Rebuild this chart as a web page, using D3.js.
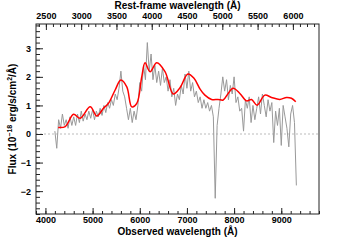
<!DOCTYPE html>
<html>
<head>
<meta charset="utf-8">
<script src="https://cdn.jsdelivr.net/npm/d3@7"></script>
<style>
  body { margin: 0; background: #fff; }
  text { font-family: "Liberation Sans", Arial, sans-serif; font-weight: bold; fill: #000; }
</style>
</head>
<body>
<div id="chart"></div>
<script>
// observed spectrum, 40 A steps from 4200 A
const specStart = 4200;
const specStep = 40;
const specFlux = [
  0.1, -0.5, 0.5, 0.2, 0.7, 0.3, 0.5, 0.2, 0.6, 0.3,
  0.6, 0.3, 0.7, 0.4, 0.8, 0.45, 0.7, 0.5, 0.8, 0.55,
  0.85, 0.5, 0.8, 0.6, 0.9, 0.65, 1.0, 0.75, 1.1, 0.9,
  1.2, 1.0, 1.4, 1.2, 1.6, 2.2, 1.5, 1.3, 0.9, 0.5,
  0.9, 0.4, 0.8, 0.5, 1.0, 1.8, 1.5, 2.4, 1.9, 3.2,
  2.2, 2.8, 1.9, 2.4, 1.8, 2.2, 1.7, 2.3, 1.8, 2.0,
  1.5, 1.9, 1.3, 1.6, 1.0, 1.4, 1.2, 1.7, 1.4, 2.1,
  1.6, 2.2, 1.5, 1.8, 1.3, 1.5, 1.1, 1.3, 0.9, 1.2,
  0.9, 1.1, 0.8, 1.0, 0.6, -2.25, 0.3, 0.9, 1.4, 2.0,
  1.5, 1.9, 1.2, 1.7, 1.4, 2.0, 1.1, 1.3, 0.8, 0.9,
  0.1, 1.2, 0.9, 1.3, 0.4, 1.0, 0.5, 0.9, 1.3, 0.7,
  1.4, 1.0, 0.6, 1.2, 0.8, 1.1, -0.3, 0.8, 0.3, 0.9,
  -0.4, 1.0, 0.6, 0.2, -0.45, 0.7, 1.0, 0.4, -1.8
];

// smooth model (red)
const modelWave = [4270, 4420, 4596, 4737, 4949, 5090, 5230, 5336, 5478, 5598,
  5725, 5831, 5937, 6042, 6112, 6218, 6360, 6535, 6711, 6853,
  7020, 7150, 7276, 7381, 7523, 7663, 7769, 7874, 7980, 8122,
  8264, 8369, 8488, 8651, 8793, 8968, 9110, 9216, 9307];
const modelFlux = [0.23, 0.26, 0.69, 0.55, 0.95, 0.63, 0.9, 1.07, 1.54, 1.89,
  1.65, 0.95, 1.07, 2.0, 2.49, 2.18, 2.49, 2.18, 1.40, 1.62,
  2.10, 1.95, 1.58, 1.36, 1.21, 1.21, 1.19, 1.42, 1.60, 1.42,
  1.16, 1.21, 1.01, 1.36, 1.28, 1.21, 1.28, 1.25, 1.13];

const obsTicks = [4000, 5000, 6000, 7000, 8000, 9000];
const restTicks = [2500, 3000, 3500, 4000, 4500, 5000, 5500, 6000];
const fluxTicks = [-2, -1, 0, 1, 2, 3];

const W = 355, H = 240;
const margin = { top: 24, right: 36, bottom: 26, left: 36 };
const w = W - margin.left - margin.right;
const h = H - margin.top - margin.bottom;

const svg = d3.select('#chart').append('svg')
  .attr('width', W).attr('height', H);
const g = svg.append('g')
  .attr('transform', `translate(${margin.left},${margin.top})`);

const x = d3.scaleLinear().domain([3800, 9800]).range([0, w]);
const xTop = d3.scaleLinear().domain([2360, 6370]).range([0, w]);
const y = d3.scaleLinear().domain([-2.8, 3.85]).range([h, 0]);

// zero line
g.append('line')
  .attr('x1', 0).attr('x2', w)
  .attr('y1', y(0)).attr('y2', y(0))
  .style('stroke', '#bbb').style('stroke-dasharray', '2,2');

const spec = specFlux.map((v, i) => ({ wave: specStart + i * specStep, flux: v }));
g.append('path')
  .datum(spec)
  .attr('d', d3.line().x(d => x(d.wave)).y(d => y(d.flux)))
  .style('fill', 'none').style('stroke', '#999').style('stroke-width', 1);

const model = modelWave.map((v, i) => ({ wave: v, flux: modelFlux[i] }));
g.append('path')
  .datum(model)
  .attr('d', d3.line().curve(d3.curveCatmullRom).x(d => x(d.wave)).y(d => y(d.flux)))
  .style('fill', 'none').style('stroke', '#ff0000').style('stroke-width', 1.5);

// axes with inward ticks
function styleAxis(sel) {
  sel.selectAll('path').remove();
  sel.selectAll('line').style('stroke', '#222');
  sel.selectAll('text').style('font-size', '9px');
}

const minorObs = d3.range(3800, 9801, 200);
g.append('g').attr('transform', `translate(0,${h})`)
  .call(d3.axisBottom(x).tickValues(minorObs).tickSize(-3).tickFormat(''))
  .call(styleAxis);
g.append('g').attr('transform', `translate(0,${h})`)
  .call(d3.axisBottom(x).tickValues(obsTicks).tickSize(-6).tickPadding(3).tickFormat(d3.format('d')))
  .call(styleAxis);

const minorRest = d3.range(2400, 6400, 100);
g.append('g')
  .call(d3.axisTop(xTop).tickValues(minorRest).tickSize(-3).tickFormat(''))
  .call(styleAxis);
g.append('g')
  .call(d3.axisTop(xTop).tickValues(restTicks).tickSize(-6).tickPadding(5).tickFormat(d3.format('d')))
  .call(styleAxis);

const minorFlux = d3.range(-2.8, 3.81, 0.2);
g.append('g')
  .call(d3.axisLeft(y).tickValues(minorFlux).tickSize(-4).tickFormat(''))
  .call(styleAxis);
g.append('g')
  .call(d3.axisLeft(y).tickValues(fluxTicks).tickSize(-7).tickPadding(5).tickFormat(d3.format('d')))
  .call(styleAxis);

g.append('rect')
  .attr('width', w).attr('height', h)
  .style('fill', 'none').style('stroke', '#222').style('stroke-width', 1);

// titles
svg.append('text')
  .attr('x', margin.left + w / 2).attr('y', 9)
  .attr('text-anchor', 'middle').style('font-size', '10px')
  .text('Rest-frame wavelength (Å)');
svg.append('text')
  .attr('x', margin.left + w / 2).attr('y', 235)
  .attr('text-anchor', 'middle').style('font-size', '10px')
  .text('Observed wavelength (Å)');

const yl = svg.append('text')
  .attr('transform', `translate(16,${margin.top + h / 2}) rotate(-90)`)
  .attr('text-anchor', 'middle').style('font-size', '10px');
yl.append('tspan').text('Flux (10');
yl.append('tspan').attr('dy', -4).style('font-size', '7px').text('−18');
yl.append('tspan').attr('dy', 4).text(' erg/s/cm');
yl.append('tspan').attr('dy', -4).style('font-size', '7px').text('2');
yl.append('tspan').attr('dy', 4).text('/Å)');
</script>
</body>
</html>
